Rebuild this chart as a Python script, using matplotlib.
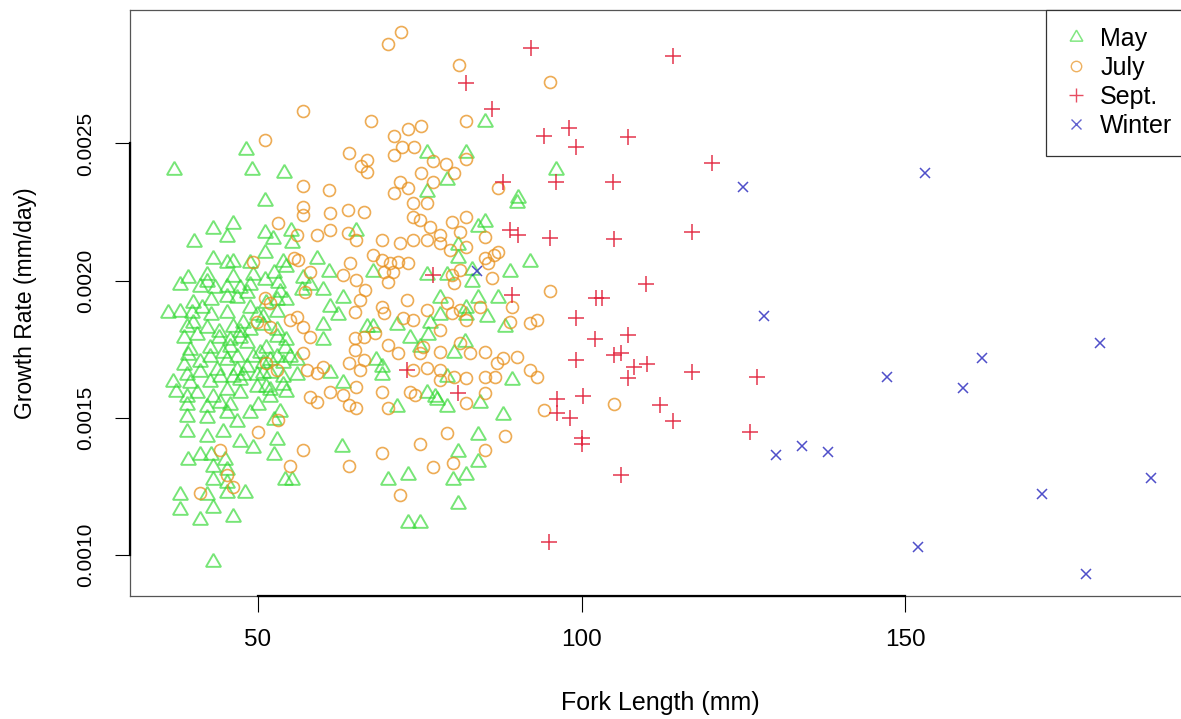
import matplotlib.pyplot as plt
from matplotlib.lines import Line2D

plt.rcParams['font.family'] = ['Liberation Sans', 'DejaVu Sans']

# fork length (mm) and growth rate (mm/day)
may_len = [48.1, 37.1, 49.1, 54.0, 51.1, 85.1, 76.1, 82.1, 79.2, 76.1, 96.1, 90.2,
           43.1, 46.1, 45.2, 40.1, 51.1, 52.3, 55.1, 55.2, 65.2, 51.1, 43.1, 45.2, 46.2, 53.9, 59.1, 61.0,
           39.2, 42.1, 42.1, 46.1, 49.3, 51.1, 52.4, 54.4, 57.0, 38.0, 41.0, 43.4, 45.2, 47.2, 48.8, 53.1, 58.0, 60.1,
           36.1, 38.0, 40.0, 41.3, 42.8, 45.2, 46.7, 48.8, 49.8, 52.9, 54.4, 61.1, 63.2, 62.4,
           39.0, 42.1, 43.9, 47.2, 50.8, 52.9, 60.1, 60.1, 66.8, 38.5, 40.5, 43.9, 45.7, 48.3, 51.3, 54.2,
           39.2, 42.6, 44.6, 46.7, 49.3, 50.8, 52.9, 54.9, 41.0, 38.5, 43.6, 46.7, 48.3, 50.8, 56.0, 61.1,
           36.9, 39.5, 42.6, 44.1, 47.2, 49.8, 51.9, 53.9, 63.2, 39.0, 43.1, 51.9,
           90.0, 85.1, 84.0, 80.9, 80.9, 92.0, 88.9, 83.0, 83.0, 76.1, 79.2, 67.8, 78.1, 84.0, 87.1, 82.2, 82.2,
           85.3, 78.1, 76.6, 67.8, 71.4, 88.2, 73.5, 76.3, 75.0, 82.0, 80.2, 68.3, 69.1, 69.1, 89.2, 79.2, 76.1, 77.3,
           39.0, 42.1, 44.1, 45.7, 39.0, 42.1, 45.2, 46.7, 48.8, 50.0, 39.0, 42.1, 44.6, 47.2, 49.3, 52.9, 52.4, 53.4,
           39.2, 41.0, 42.8, 44.9, 43.1, 45.2, 52.4, 43.1, 45.2, 38.0, 42.1, 45.2, 48.0, 54.2, 55.2, 62.9, 38.0, 43.1,
           41.0, 46.2, 43.1,
           71.4, 79.2, 77.6, 84.3, 87.9, 84.0, 80.9, 84.0, 70.1, 73.1, 80.1, 82.2, 80.9, 73.1, 75.0,
           48.8, 53.4, 56.8, 45.2, 48.3, 51.3, 52.9, 39.8, 42.8, 50.8, 40.0, 46.2, 47.7, 48.8, 45.7, 47.2, 52.9,
           54.4, 39.5, 42.6, 50.3, 41.0, 45.2, 51.9, 53.9, 56.0, 39.0, 46.2, 47.7, 49.8, 51.9, 53.9, 37.4, 40.5,
           45.2, 47.2, 51.3, 54.4]
may_rate = [0.002478, 0.002405, 0.002405, 0.002393, 0.002290, 0.002577, 0.002464, 0.002464, 0.002367, 0.002324, 0.002403, 0.002301,
            0.002187, 0.002206, 0.002158, 0.002142, 0.002172, 0.002150, 0.002182, 0.002138, 0.002182, 0.002099, 0.002078, 0.002063,
            0.002069, 0.002069, 0.002078, 0.002032,
            0.002008, 0.002020, 0.001996, 0.002014, 0.002020, 0.002002, 0.002027, 0.002051, 0.002008, 0.001984, 0.001976, 0.001972,
            0.001976, 0.001972, 0.001984, 0.001990, 0.001984, 0.001966,
            0.001881, 0.001887, 0.001917, 0.001899, 0.001929, 0.001883, 0.001935, 0.001899, 0.001875, 0.001887, 0.001929, 0.001905,
            0.001935, 0.001875,
            0.001832, 0.001826, 0.001814, 0.001814, 0.001838, 0.001820, 0.001838, 0.001783, 0.001832, 0.001790, 0.001802, 0.001790,
            0.001759, 0.001771, 0.001753, 0.001753,
            0.001729, 0.001723, 0.001735, 0.001723, 0.001723, 0.001699, 0.001723, 0.001723, 0.001668, 0.001692, 0.001674, 0.001674,
            0.001686, 0.001662, 0.001656, 0.001662,
            0.001632, 0.001626, 0.001632, 0.001650, 0.001638, 0.001613, 0.001601, 0.001619, 0.001626, 0.001577, 0.001577, 0.001577,
            0.002282, 0.002215, 0.002196, 0.002130, 0.002081, 0.002069, 0.002032, 0.002039, 0.001996, 0.002020, 0.002020, 0.002032,
            0.001935, 0.001935, 0.001935, 0.001899, 0.001875, 0.001868, 0.001875, 0.001844, 0.001832, 0.001838, 0.001832, 0.001790,
            0.001802, 0.001759, 0.001777, 0.001735, 0.001711, 0.001686, 0.001656, 0.001638, 0.001650, 0.001589, 0.001577,
            0.001547, 0.001540, 0.001553, 0.001547, 0.001504, 0.001498, 0.001516, 0.001486, 0.001516, 0.001547, 0.001449, 0.001431,
            0.001449, 0.001413, 0.001389, 0.001419, 0.001492, 0.001522, 0.001346, 0.001364, 0.001364, 0.001346, 0.001322, 0.001310,
            0.001364, 0.001273, 0.001261, 0.001219, 0.001219, 0.001225, 0.001225, 0.001273, 0.001273, 0.001395, 0.001164, 0.001170,
            0.001128, 0.001140, 0.000976,
            0.001540, 0.001540, 0.001565, 0.001553, 0.001510, 0.001437, 0.001376, 0.001340, 0.001273, 0.001292, 0.001273, 0.001292,
            0.001186, 0.001116, 0.001116,
            0.002063, 0.001959, 0.001966, 0.001941, 0.001954, 0.001917, 0.001929, 0.001881, 0.001875, 0.001868, 0.001844, 0.001832,
            0.001844, 0.001820, 0.001783, 0.001790, 0.001796, 0.001783, 0.001747, 0.001753, 0.001735, 0.001704, 0.001711, 0.001711,
            0.001699, 0.001711, 0.001656, 0.001650, 0.001656, 0.001656, 0.001662, 0.001650, 0.001595, 0.001589, 0.001601, 0.001589,
            0.001613, 0.001595]

jul_len = [57.0, 51.1, 64.1, 65.9, 66.8, 66.8, 57.0, 61.0, 67.4, 70.1, 72.1, 81.1, 95.1, 82.1, 73.1, 75.1, 71.0, 72.2,
           74.1, 71.0, 82.1, 77.1, 79.0, 80.2, 75.1, 77.1, 72.0, 73.2, 71.0, 87.0,
           57.0, 57.0, 61.1, 63.9, 66.3, 53.1, 56.1, 59.1, 61.1, 63.9, 65.2, 49.3, 55.5, 56.2, 58.0, 64.2, 63.2, 65.2,
           66.5, 51.1, 51.9, 57.3, 65.8, 65.0, 56.0, 57.0, 58.0, 54.9, 49.8, 51.9, 65.0, 65.0, 66.3, 57.0, 51.3, 52.9,
           57.5, 59.1, 60.1, 64.0, 65.8, 66.3, 61.1, 63.2, 58.0, 65.2,
           74.0, 76.1, 74.0, 75.0, 76.6, 79.9, 82.2, 81.2, 69.1, 71.9, 74.0, 76.1, 78.1, 78.1, 79.7, 82.2, 85.1, 67.8,
           69.1, 70.4, 71.7, 73.2, 69.4, 70.9, 70.1, 79.9, 81.2, 85.1, 86.4, 87.1, 85.6, 86.1, 80.2, 95.1, 69.1, 69.4,
           73.0, 72.4, 74.0, 76.1, 79.2, 79.9, 81.2, 82.2, 84.3, 89.2, 78.1, 92.0, 93.1, 88.9, 68.1, 70.1, 71.7, 75.0,
           75.5, 78.1, 81.2, 82.8, 85.1, 90.0, 86.9, 87.9, 74.0, 78.1, 76.1, 85.1, 86.6, 92.0, 93.1, 69.1, 73.5, 74.3,
           78.1, 80.2, 82.2, 85.1,
           59.1, 64.0, 65.2, 50.0, 53.1, 44.1, 57.0, 54.9, 64.0, 41.0, 46.2, 45.2,
           70.1, 82.2, 94.1, 79.2, 88.2, 75.0, 69.1, 85.1, 77.1, 80.1, 72.0, 105.0]
jul_rate = [0.002619, 0.002512, 0.002464, 0.002418, 0.002439, 0.002397, 0.002345, 0.002330, 0.002583, 0.002862, 0.002907,
            0.002786, 0.002724, 0.002582, 0.002553, 0.002563, 0.002527, 0.002488, 0.002488, 0.002458, 0.002442, 0.002437,
            0.002425, 0.002391, 0.002391, 0.002360, 0.002360, 0.002336, 0.002318, 0.002336,
            0.002269, 0.002239, 0.002245, 0.002257, 0.002251, 0.002209, 0.002166, 0.002166, 0.002184, 0.002172, 0.002148,
            0.002069, 0.002081, 0.002075, 0.002032, 0.002063, 0.002020, 0.002002, 0.001966, 0.001935, 0.001917, 0.001959,
            0.001929, 0.001887, 0.001868, 0.001832, 0.001796, 0.001856, 0.001850, 0.001832, 0.001790, 0.001747, 0.001796,
            0.001735, 0.001699, 0.001674, 0.001674, 0.001662, 0.001686, 0.001699, 0.001674, 0.001711, 0.001595, 0.001583,
            0.001577, 0.001613,
            0.002282, 0.002284, 0.002233, 0.002221, 0.002196, 0.002215, 0.002233, 0.002178, 0.002148, 0.002136, 0.002148,
            0.002148, 0.002166, 0.002136, 0.002111, 0.002123, 0.002160, 0.002093, 0.002075, 0.002063, 0.002069, 0.002063,
            0.002032, 0.002032, 0.001996, 0.002020, 0.002039, 0.002081, 0.002093, 0.002105, 0.002063, 0.002008, 0.001990,
            0.001963, 0.001905, 0.001881, 0.001929, 0.001863, 0.001856, 0.001893, 0.001917, 0.001881, 0.001893, 0.001856,
            0.001905, 0.001905, 0.001820, 0.001844, 0.001856, 0.001850, 0.001808, 0.001765, 0.001735, 0.001735, 0.001759,
            0.001741, 0.001771, 0.001735, 0.001741, 0.001723, 0.001699, 0.001717, 0.001674, 0.001674, 0.001680, 0.001650,
            0.001650, 0.001674, 0.001650, 0.001595, 0.001595, 0.001583, 0.001638, 0.001650, 0.001644, 0.001589,
            0.001559, 0.001547, 0.001535, 0.001449, 0.001492, 0.001383, 0.001383, 0.001324, 0.001324, 0.001225, 0.001249,
            0.001292,
            0.001535, 0.001553, 0.001528, 0.001443, 0.001434, 0.001403, 0.001373, 0.001383, 0.001322, 0.001334, 0.001219,
            0.001552]

sep_len = [92.1, 114.1, 82.1, 86.2, 98.1, 94.1, 107.1, 99.1, 120.1, 87.9, 96.1, 104.8, 88.9, 90.2, 95.1, 105.0,
           117.1, 77.1, 110.0, 89.2, 102.2, 103.1, 99.1, 102.1, 107.1, 99.1, 105.0, 106.1, 108.1, 110.1, 107.1,
           117.1, 127.0, 73.0, 80.9, 100.2, 96.2, 96.2, 98.2, 112.1, 114.1, 100.0, 100.0, 126.0, 106.1, 95.0]
sep_rate = [0.002849, 0.002818, 0.002721, 0.002624, 0.002556, 0.002527, 0.002523, 0.002488, 0.002430, 0.002360,
            0.002360, 0.002359, 0.002184, 0.002166, 0.002154, 0.002152, 0.002179, 0.002020, 0.001987, 0.001947,
            0.001937, 0.001937, 0.001863, 0.001789, 0.001801, 0.001711, 0.001729, 0.001737, 0.001687, 0.001698,
            0.001645, 0.001668, 0.001649, 0.001674, 0.001589, 0.001579, 0.001568, 0.001517, 0.001499, 0.001548,
            0.001489, 0.001426, 0.001405, 0.001450, 0.001290, 0.001048]

win_len = [124.9, 128.1, 130.0, 134.0, 138.1, 147.1, 153.0, 158.9, 161.9, 171.1, 177.9, 180.1, 187.9, 152.0, 83.9]
win_rate = [0.002342, 0.001871, 0.001366, 0.001397, 0.001375, 0.001649, 0.002392, 0.001610, 0.001718, 0.001224,
            0.000929, 0.001772, 0.001280, 0.001029, 0.002036]

x_ticks = [50, 100, 150]
y_ticks = [0.0010, 0.0015, 0.0020, 0.0025]

W, H = 1181, 719
fig = plt.figure(figsize=(W / 100, H / 100), dpi=100)
# plot region runs a little past the right edge of the picture (cropped R plot)
ax = fig.add_axes([129.5 / W, (H - 596) / H, (1190 - 129.5) / W, (596 - 9.5) / H])

c_may = '#2fd82f'
c_jul = '#e8901c'
c_sep = '#e2203a'
c_win = '#3c3cc4'

ax.plot(may_len, may_rate, linestyle='none', marker=(3, 0, 0), ms=12.5, mfc='none',
        mec=c_may, mew=1.4, alpha=0.65)
ax.plot(jul_len, jul_rate, linestyle='none', marker='o', ms=8.6, mfc='none',
        mec=c_jul, mew=1.2, alpha=0.75)
ax.plot(sep_len, sep_rate, linestyle='none', marker='+', ms=11.5, mec=c_sep, mew=1.1, alpha=0.9)
ax.plot(win_len, win_rate, linestyle='none', marker='x', ms=7.5, mec=c_win, mew=1.1, alpha=0.9)

ax.set_xlim(30.15, 193.96)
ax.set_ylim(0.0008506, 0.0029883)

ax.set_xticks(x_ticks)
ax.set_xticklabels([str(t) for t in x_ticks])
ax.set_yticks(y_ticks)
ax.set_yticklabels(['%.4f' % t for t in y_ticks], rotation=90, va='center')
ax.tick_params(axis='x', direction='out', length=11.5, width=0.8, pad=12, labelsize=17.5)
ax.tick_params(axis='y', direction='out', length=11, width=0.8, pad=14, labelsize=15)

for s in ax.spines.values():
    s.set_color('#555555')
    s.set_linewidth(0.9)

# R draws the axis line only between the first and last tick
ax.plot([x_ticks[0], x_ticks[-1]], [0.0008506, 0.0008506], color='black', lw=1.6,
        clip_on=False, zorder=5)
ax.plot([30.15, 30.15], [y_ticks[0], y_ticks[-1]], color='black', lw=1.6,
        clip_on=False, zorder=5)

fig.text(660 / W, 1 - 703 / H, 'Fork Length (mm)', ha='center', va='center', fontsize=18)
fig.text(26 / W, 1 - 303 / H, 'Growth Rate (mm/day)', ha='center', va='center',
         rotation=90, fontsize=16.5)

handles = [
    Line2D([], [], linestyle='none', marker=(3, 0, 0), ms=10.5, mfc='none', mec=c_may, mew=1.1, alpha=0.6),
    Line2D([], [], linestyle='none', marker='o', ms=7.5, mfc='none', mec=c_jul, mew=1.0, alpha=0.7),
    Line2D([], [], linestyle='none', marker='+', ms=10.5, mec=c_sep, mew=1.0, alpha=0.8),
    Line2D([], [], linestyle='none', marker='x', ms=6.5, mec=c_win, mew=1.0, alpha=0.8),
]
leg = ax.legend(handles, ['May', 'July', 'Sept.', 'Winter'], loc='upper right',
                bbox_to_anchor=(1, 1), borderaxespad=0, fancybox=False, framealpha=1,
                edgecolor='#333333', fontsize=18, borderpad=0.7, handlelength=1.0,
                handletextpad=0.45, labelspacing=0.2)
leg.get_frame().set_linewidth(0.9)

fig.savefig('out.png', dpi=100)
